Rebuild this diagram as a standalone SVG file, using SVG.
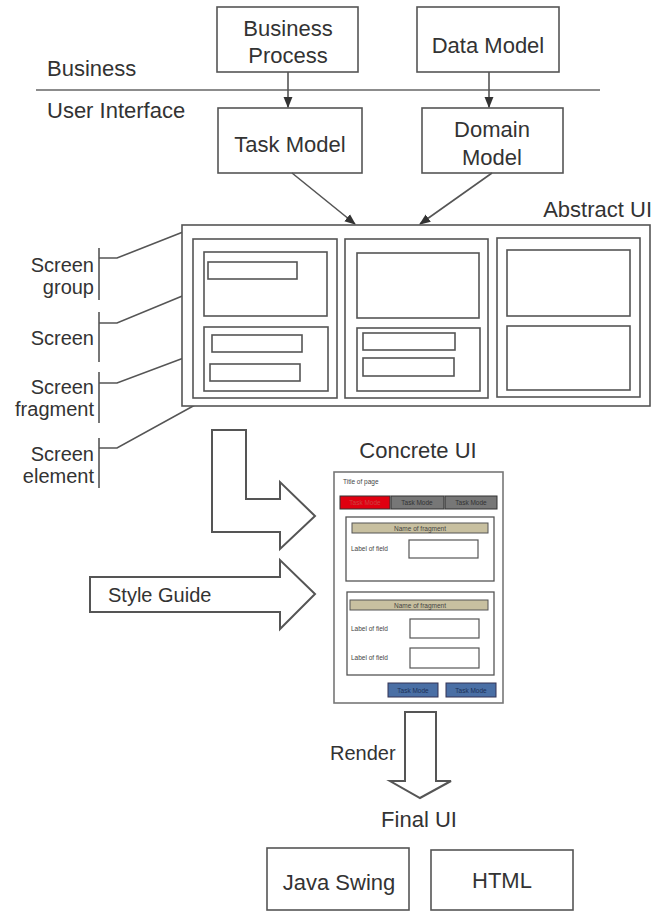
<svg xmlns="http://www.w3.org/2000/svg" width="662" height="913" viewBox="0 0 662 913">
<defs>
<style>
text{font-family:"Liberation Sans",Arial,sans-serif;fill:#333}
.lbl{font-size:22px}
.mid{font-size:20px}
.side{font-size:20px;text-anchor:end}
.c{text-anchor:middle}
.box{fill:#fff;stroke:#555;stroke-width:1.6}
.ln{fill:none;stroke:#555;stroke-width:1.6}
.big{fill:#fff;stroke:#555;stroke-width:2}
.tiny{font-size:6.5px;fill:#444}
.tab{stroke:#333;stroke-width:1}
</style>
<marker id="ah" viewBox="0 0 10 10" refX="9" refY="5" markerWidth="7" markerHeight="7" orient="auto-start-reverse">
<path d="M0,1 L10,5 L0,9 z" fill="#333"/>
</marker>
</defs>
<rect width="662" height="913" fill="#fff"/>

<g id="layers">
<text class="lbl" x="47" y="76">Business</text>
<line x1="36" y1="90" x2="600" y2="90" stroke="#666" stroke-width="1.6"/>
<text class="lbl" x="47" y="118">User Interface</text>
</g>

<g id="business-process"><rect class="box" x="217" y="7" width="141" height="65"/><text class="lbl c" x="288" y="36">Business</text><text class="lbl c" x="288" y="63">Process</text></g>
<g id="data-model"><rect class="box" x="417" y="7" width="142" height="65"/><text class="lbl c" x="488" y="53">Data Model</text></g>
<g id="task-model"><rect class="box" x="218" y="108" width="144" height="65"/><text class="lbl c" x="290" y="152">Task Model</text></g>
<g id="domain-model"><rect class="box" x="422" y="108" width="141" height="65"/><text class="lbl c" x="492" y="137">Domain</text><text class="lbl c" x="492" y="165">Model</text></g>

<g id="connectors">
<line class="ln" x1="288" y1="72" x2="288" y2="107" marker-end="url(#ah)"/>
<line class="ln" x1="489" y1="72" x2="489" y2="107" marker-end="url(#ah)"/>
<line class="ln" x1="292" y1="173" x2="355" y2="224" marker-end="url(#ah)" stroke-width="1.2"/>
<line class="ln" x1="492" y1="173" x2="420" y2="224" marker-end="url(#ah)" stroke-width="1.2"/>
<polyline class="ln" points="99,258 117,258 183,232"/>
<polyline class="ln" points="99,323 117,323 192,292"/>
<polyline class="ln" points="99,383 117,383 205,350"/>
<polyline class="ln" points="99,448 117,448 255,372"/>
</g>

<g id="abstract-ui">
<text class="lbl" x="652" y="217" text-anchor="end">Abstract UI</text>
<rect class="box" x="182" y="225" width="468" height="181"/>
<rect class="box" x="193" y="239" width="144" height="159"/>
<rect class="box" x="204" y="252" width="123" height="64"/>
<rect class="box" x="208" y="262" width="89" height="17"/>
<rect class="box" x="204" y="327" width="124" height="64"/>
<rect class="box" x="212" y="335" width="90" height="17"/>
<rect class="box" x="210" y="364" width="90" height="17"/>
<rect class="box" x="345" y="239" width="143" height="159"/>
<rect class="box" x="357" y="253" width="122" height="65"/>
<rect class="box" x="357" y="328" width="123" height="63"/>
<rect class="box" x="363" y="333" width="92" height="17"/>
<rect class="box" x="363" y="358" width="91" height="18"/>
<rect class="box" x="497" y="238" width="143" height="159"/>
<rect class="box" x="507" y="250" width="123" height="66"/>
<rect class="box" x="507" y="326" width="123" height="64"/>
</g>

<g id="side-labels">
<line class="ln" x1="99" y1="248" x2="99" y2="300"/>
<line class="ln" x1="99" y1="312" x2="99" y2="362"/>
<line class="ln" x1="99" y1="372" x2="99" y2="423"/>
<line class="ln" x1="99" y1="438" x2="99" y2="488"/>
<text class="side" x="94" y="272">Screen</text><text class="side" x="94" y="294">group</text>
<text class="side" x="94" y="345">Screen</text>
<text class="side" x="94" y="394">Screen</text><text class="side" x="94" y="416">fragment</text>
<text class="side" x="94" y="461">Screen</text><text class="side" x="94" y="483">element</text>
</g>

<g id="transform-arrow"><path class="big" d="M212,430 L246,430 L246,499 L280,499 L280,482 L315,516 L280,549 L280,532 L212,532 Z"/></g>
<g id="style-guide"><path class="big" d="M90,577 L280,577 L280,560 L315,594 L280,629 L280,612 L90,612 Z"/><text class="mid" x="108" y="602">Style Guide</text></g>

<g id="concrete-ui">
<text class="lbl c" x="418" y="458">Concrete UI</text>
<rect x="334" y="472" width="169" height="231" fill="#fff" stroke="#777" stroke-width="1.6"/>
<text class="tiny" x="343" y="484">Title of page</text>
<rect class="tab" x="340" y="496" width="50" height="13" fill="#e00010"/>
<rect class="tab" x="391" y="496" width="53" height="13" fill="#777"/>
<rect class="tab" x="445" y="496" width="52" height="13" fill="#777"/>
<text class="tiny c" x="365" y="505" style="fill:#c44">Task Mode</text>
<text class="tiny c" x="417" y="505" style="fill:#333">Task Mode</text>
<text class="tiny c" x="471" y="505" style="fill:#333">Task Mode</text>
<rect x="346" y="517" width="148" height="64" fill="#fff" stroke="#555" stroke-width="1.3"/>
<rect x="352" y="523" width="136" height="10" fill="#c8c0a0" stroke="#555" stroke-width="1"/>
<text class="tiny c" x="420" y="531">Name of fragment</text>
<text class="tiny" x="351" y="551">Label of field</text>
<rect x="409" y="540" width="69" height="18" fill="#fff" stroke="#555" stroke-width="1.2"/>
<rect x="347" y="592" width="147" height="83" fill="#fff" stroke="#555" stroke-width="1.3"/>
<rect x="350" y="600" width="138" height="10" fill="#c8c0a0" stroke="#555" stroke-width="1"/>
<text class="tiny c" x="420" y="608">Name of fragment</text>
<text class="tiny" x="351" y="631">Label of field</text>
<rect x="410" y="619" width="69" height="19" fill="#fff" stroke="#555" stroke-width="1.2"/>
<text class="tiny" x="351" y="660">Label of field</text>
<rect x="410" y="648" width="69" height="20" fill="#fff" stroke="#555" stroke-width="1.2"/>
<rect x="388" y="683" width="50" height="14" fill="#4a6fa5" stroke="#335" stroke-width="1"/>
<rect x="446" y="683" width="50" height="14" fill="#4a6fa5" stroke="#335" stroke-width="1"/>
<text class="tiny c" x="413" y="693" style="fill:#1d2f55">Task Mode</text>
<text class="tiny c" x="471" y="693" style="fill:#1d2f55">Task Mode</text>
</g>

<g id="render-arrow"><path class="big" d="M405,712 L436,712 L436,781 L451,781 L420,798 L390,781 L405,781 Z" stroke-width="1.6"/><text class="mid" x="330" y="760">Render</text></g>

<g id="final-ui"><text class="lbl c" x="419" y="827">Final UI</text></g>
<g id="java-swing"><rect class="box" x="267" y="848" width="142" height="62"/><text class="lbl c" x="339" y="890">Java Swing</text></g>
<g id="html"><rect class="box" x="431" y="850" width="142" height="60"/><text class="lbl c" x="502" y="888">HTML</text></g>
</svg>
